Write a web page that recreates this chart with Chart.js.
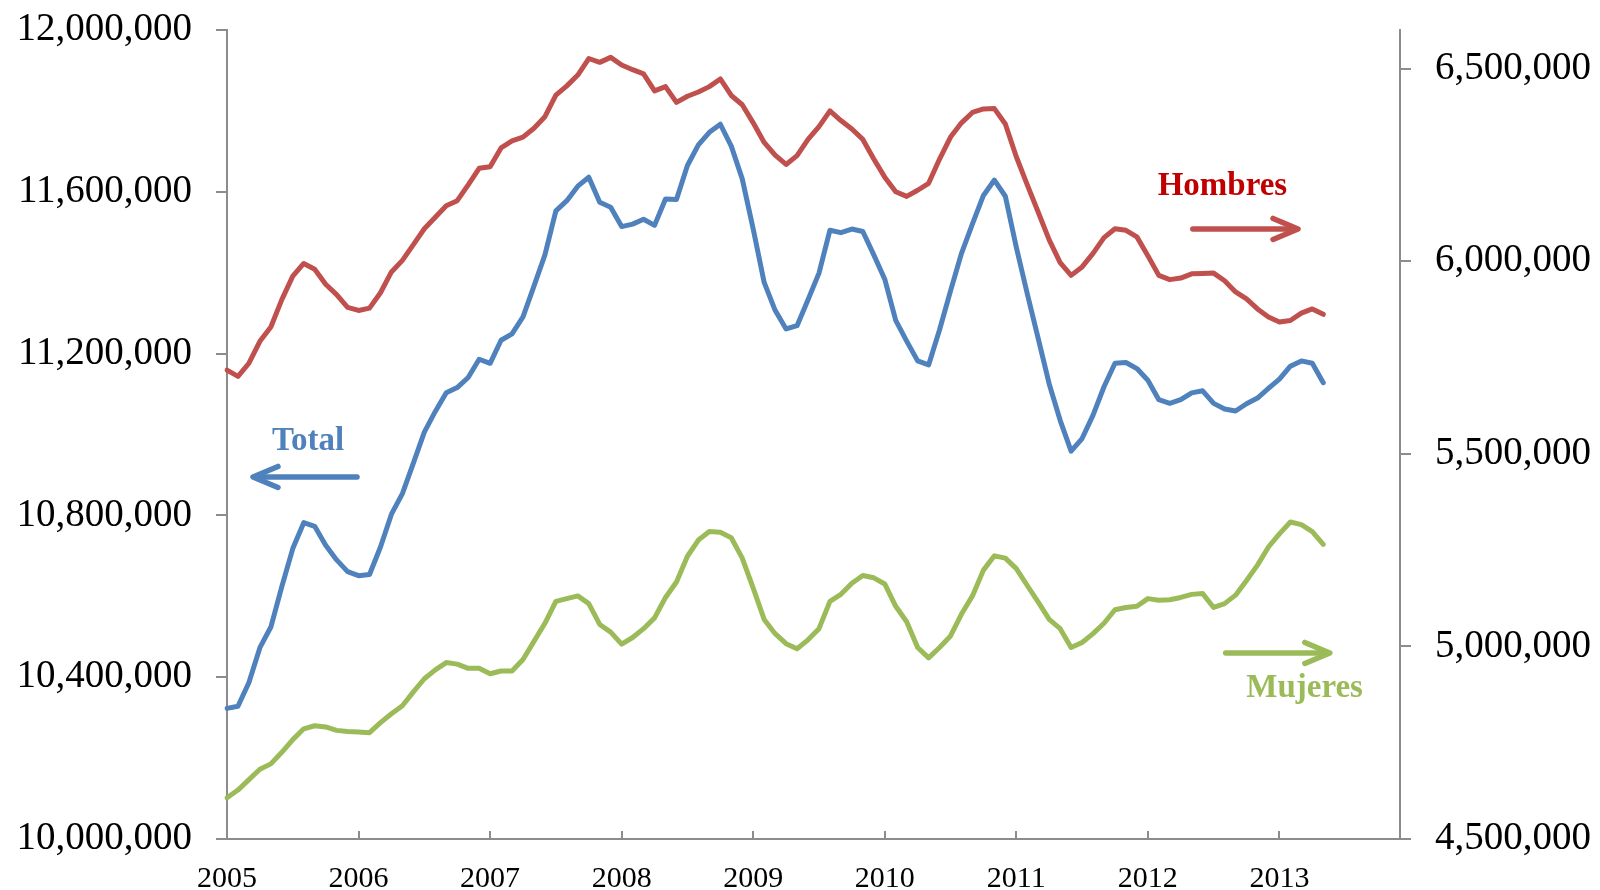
<!DOCTYPE html>
<html>
<head>
<meta charset="utf-8">
<script src="https://cdn.jsdelivr.net/npm/chart.js@4.4.1/dist/chart.umd.min.js"></script>
<style>
  html, body { margin: 0; padding: 0; background: #ffffff; }
  #wrap { width: 1600px; height: 890px; position: relative; }
</style>
</head>
<body>
<div id="wrap"><canvas id="c" width="1600" height="890"></canvas></div>
<script>
// ---- Data ----
const years = [2005, 2006, 2007, 2008, 2009, 2010, 2011, 2012, 2013];
const monthNames = ['01','02','03','04','05','06','07','08','09','10','11','12'];

// Total (left axis), monthly Jan 2005 - May 2013
const total = [
  10323000, 10328000, 10387000, 10473000, 10524000, 10624000, 10718000, 10782000, 10773000, 10726000, 10690000, 10661000,
  10651000, 10654000, 10722000, 10803000, 10854000, 10929000, 11006000, 11057000, 11103000, 11116000, 11141000, 11186000,
  11176000, 11233000, 11249000, 11291000, 11367000, 11444000, 11553000, 11578000, 11614000, 11636000, 11574000, 11562000,
  11514000, 11520000, 11532000, 11517000, 11582000, 11581000, 11665000, 11716000, 11747000, 11767000, 11713000, 11632000,
  11508000, 11376000, 11307000, 11261000, 11269000, 11333000, 11399000, 11505000, 11499000, 11508000, 11502000, 11444000,
  11384000, 11282000, 11231000, 11182000, 11172000, 11259000, 11355000, 11448000, 11521000, 11591000, 11629000, 11589000,
  11463000, 11348000, 11237000, 11125000, 11035000, 10959000, 10990000, 11048000, 11118000, 11176000, 11178000, 11163000,
  11134000, 11086000, 11077000, 11086000, 11103000, 11108000, 11077000, 11063000, 11058000, 11076000, 11090000, 11114000,
  11137000, 11169000, 11182000, 11176000, 11128000
];

// Hombres (right axis)
const hombres = [
  5717000, 5701000, 5735000, 5792000, 5829000, 5900000, 5961000, 5994000, 5979000, 5940000, 5913000, 5880000,
  5872000, 5878000, 5918000, 5972000, 6002000, 6043000, 6084000, 6114000, 6144000, 6157000, 6198000, 6241000,
  6245000, 6294000, 6312000, 6322000, 6345000, 6375000, 6431000, 6455000, 6483000, 6526000, 6516000, 6529000,
  6509000, 6497000, 6486000, 6442000, 6453000, 6412000, 6428000, 6439000, 6453000, 6473000, 6430000, 6406000,
  6359000, 6308000, 6275000, 6251000, 6274000, 6316000, 6349000, 6390000, 6365000, 6343000, 6316000, 6265000,
  6218000, 6180000, 6168000, 6184000, 6202000, 6265000, 6322000, 6359000, 6386000, 6395000, 6396000, 6356000,
  6271000, 6198000, 6127000, 6055000, 5996000, 5963000, 5985000, 6020000, 6061000, 6084000, 6080000, 6063000,
  6014000, 5963000, 5952000, 5956000, 5967000, 5968000, 5969000, 5949000, 5920000, 5902000, 5876000, 5855000,
  5842000, 5846000, 5865000, 5876000, 5862000
];

// Mujeres (right axis)
const mujeres = [
  4607000, 4627000, 4654000, 4681000, 4695000, 4725000, 4758000, 4786000, 4794000, 4791000, 4782000, 4779000,
  4778000, 4776000, 4802000, 4825000, 4846000, 4882000, 4916000, 4939000, 4958000, 4954000, 4943000, 4943000,
  4929000, 4936000, 4936000, 4966000, 5013000, 5060000, 5117000, 5124000, 5131000, 5111000, 5057000, 5037000,
  5006000, 5023000, 5046000, 5074000, 5127000, 5167000, 5234000, 5276000, 5298000, 5296000, 5282000, 5229000,
  5151000, 5070000, 5033000, 5007000, 4994000, 5017000, 5046000, 5117000, 5135000, 5164000, 5184000, 5178000,
  5162000, 5104000, 5064000, 4997000, 4970000, 4997000, 5027000, 5084000, 5131000, 5198000, 5235000, 5229000,
  5202000, 5158000, 5115000, 5070000, 5046000, 4997000, 5010000, 5033000, 5060000, 5095000, 5101000, 5104000,
  5124000, 5120000, 5121000, 5127000, 5135000, 5137000, 5101000, 5111000, 5133000, 5171000, 5211000, 5258000,
  5292000, 5323000, 5316000, 5298000, 5265000
];

const leftTicks = [10000000, 10400000, 10800000, 11200000, 11600000, 12000000];
const rightTicks = [4500000, 5000000, 5500000, 6000000, 6500000];

// annotation labels in data units (x = month index, y = axis value)
const labelNotes = [
  { text: 'Total',   color: '#4F81BD', axis: 'yL', x: 7.4,  y: 10962000 },
  { text: 'Hombres', color: '#C00000', axis: 'yR', x: 90.8, y: 6172000 },
  { text: 'Mujeres', color: '#9BBB59', axis: 'yR', x: 98.3, y: 4869000 }
];
const arrowNotes = [
  { color: '#4F81BD', axis: 'yL', x0: 11.86, x1: 2.37,  y: 10895000 },
  { color: '#C0504D', axis: 'yR', x0: 88.1,  x1: 97.7,  y: 6083600 },
  { color: '#9BBB59', axis: 'yR', x0: 91.1,  x1: 100.6, y: 4983000 }
];

// categories: every month Jan 2005 .. Dec 2013
const categories = [];
years.forEach(y => monthNames.forEach(m => categories.push(y + '-' + m)));

const FONT = "'Liberation Serif', 'Times New Roman', serif";
const AXIS_GRAY = '#8c8c8c';

const fmt = v => Math.round(v).toString().replace(/\B(?=(\d{3})+(?!\d))/g, ',');

const decorPlugin = {
  id: 'decor',
  afterDatasetsDraw(chart) {
    const ctx = chart.ctx;
    const xs = chart.scales.x;
    const area = chart.chartArea;
    ctx.save();
    // inward x tick marks at each year
    ctx.strokeStyle = AXIS_GRAY;
    ctx.lineWidth = 2;
    categories.forEach((c, i) => {
      if (i % 12 === 0) {
        const px = Math.round(xs.getPixelForValue(i));
        ctx.beginPath();
        ctx.moveTo(px, area.bottom);
        ctx.lineTo(px, area.bottom - 8);
        ctx.stroke();
      }
    });
    // arrows
    arrowNotes.forEach(a => {
      const ys = chart.scales[a.axis];
      const x0 = xs.getPixelForValue(a.x0), x1 = xs.getPixelForValue(a.x1);
      const y = ys.getPixelForValue(a.y);
      const dir = Math.sign(x1 - x0);
      ctx.strokeStyle = a.color;
      ctx.lineWidth = 5.5;
      ctx.lineCap = 'round';
      ctx.lineJoin = 'round';
      ctx.beginPath();
      ctx.moveTo(x0, y);
      ctx.lineTo(x1 - dir * 2, y);
      ctx.stroke();
      ctx.beginPath();
      ctx.moveTo(x1 - dir * 25, y - 10.5);
      ctx.lineTo(x1, y);
      ctx.lineTo(x1 - dir * 25, y + 10.5);
      ctx.stroke();
    });
    // labels
    ctx.font = 'bold 33px ' + FONT;
    ctx.textAlign = 'center';
    ctx.textBaseline = 'alphabetic';
    labelNotes.forEach(n => {
      const ys = chart.scales[n.axis];
      ctx.fillStyle = n.color;
      ctx.fillText(n.text, xs.getPixelForValue(n.x), ys.getPixelForValue(n.y));
    });
    ctx.restore();
  }
};

new Chart(document.getElementById('c'), {
  type: 'line',
  data: {
    labels: categories,
    datasets: [
      { label: 'Total', data: total, yAxisID: 'yL', borderColor: '#4F81BD' },
      { label: 'Hombres', data: hombres, yAxisID: 'yR', borderColor: '#C0504D' },
      { label: 'Mujeres', data: mujeres, yAxisID: 'yR', borderColor: '#9BBB59' }
    ]
  },
  options: {
    responsive: false,
    animation: false,
    devicePixelRatio: 1,
    layout: { padding: { left: 0, right: 0, top: 30, bottom: 0 } },
    elements: {
      line: { borderWidth: 5, tension: 0, borderJoinStyle: 'round', borderCapStyle: 'round', fill: false },
      point: { radius: 0, hoverRadius: 0 }
    },
    plugins: { legend: { display: false }, tooltip: { enabled: false }, title: { display: false } },
    scales: {
      x: {
        type: 'category',
        offset: false,
        grid: { drawOnChartArea: false, drawTicks: false, color: 'rgba(0,0,0,0)' },
        border: { display: true, color: AXIS_GRAY, width: 2 },
        ticks: {
          autoSkip: false, maxRotation: 0, minRotation: 0, padding: 22,
          color: '#000000', font: { family: FONT, size: 30 },
          callback: function (v, i) { return i % 12 === 0 ? String(years[i / 12]) : ''; }
        },
        afterFit: s => { s.height = 51; s.paddingLeft = 0; s.paddingRight = 0; }
      },
      yL: {
        type: 'linear', position: 'left',
        min: leftTicks[0], max: leftTicks[leftTicks.length - 1],
        afterBuildTicks: s => { s.ticks = leftTicks.map(v => ({ value: v })); },
        grid: { drawOnChartArea: false, drawTicks: true, tickLength: 11, color: AXIS_GRAY, lineWidth: 2 },
        border: { display: true, color: AXIS_GRAY, width: 2 },
        ticks: { padding: 24, color: '#000000', font: { family: FONT, size: 39 }, callback: v => fmt(v) },
        afterFit: s => { s.width = 227; s.paddingTop = 0; s.paddingBottom = 0; }
      },
      yR: {
        type: 'linear', position: 'right',
        min: 4500000, max: 6600000,
        afterBuildTicks: s => { s.ticks = rightTicks.map(v => ({ value: v })); },
        grid: { drawOnChartArea: false, drawTicks: true, tickLength: 11, color: AXIS_GRAY, lineWidth: 2 },
        border: { display: true, color: AXIS_GRAY, width: 2 },
        ticks: { padding: 24, color: '#000000', font: { family: FONT, size: 39 }, callback: v => fmt(v) },
        afterFit: s => { s.width = 200; s.paddingTop = 0; s.paddingBottom = 0; }
      }
    }
  },
  plugins: [decorPlugin]
});
</script>
</body>
</html>
